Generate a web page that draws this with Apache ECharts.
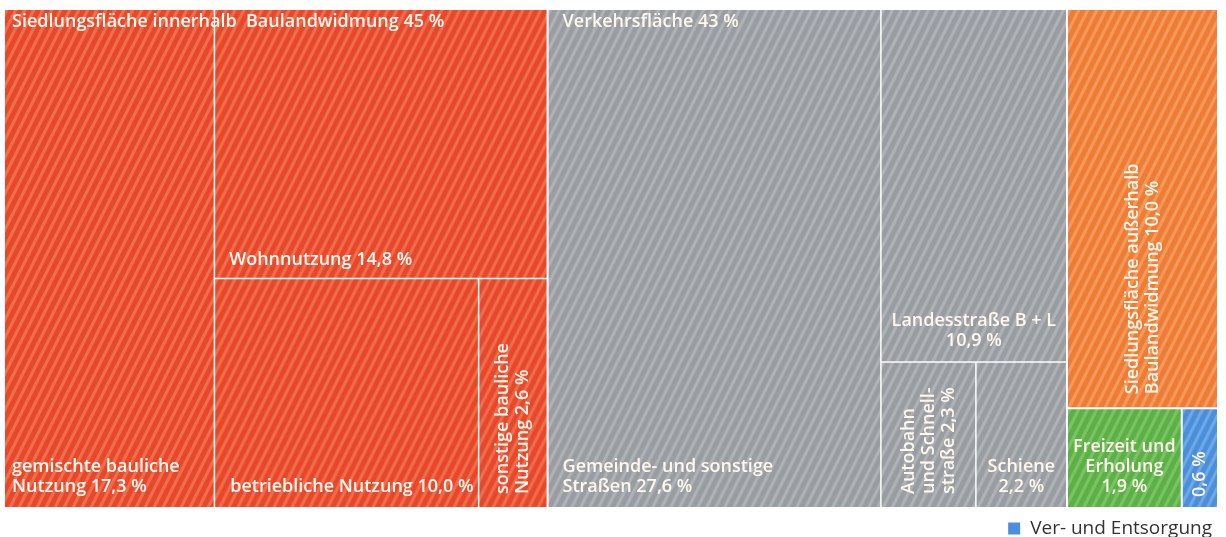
<!DOCTYPE html>
<html><head><meta charset="utf-8">
<script src="https://cdn.jsdelivr.net/npm/echarts@6/dist/echarts.min.js"></script>
<style>html,body{margin:0;padding:0;background:#fff}#c{width:1226px;height:537px}</style>
</head><body><div id="c"></div>
<script>
// ---- data ----
const groupNames = ['Siedlungsfläche innerhalb  Baulandwidmung', 'Verkehrsfläche', 'Siedlungsfläche außerhalb\nBaulandwidmung', 'Freizeit und\nErholung\n', 'Ver- und Entsorgung'];
const groupValues = [45, 43, 10.0, 1.9, 0.6];
const groupDecimals = [0, 0, 1, 1, 1];
const innerNames = ['gemischte bauliche\nNutzung', 'Wohnnutzung', 'betriebliche Nutzung', 'sonstige bauliche\nNutzung'];
const innerValues = [17.3, 14.8, 10.0, 2.6];
const trafficNames = ['Gemeinde- und sonstige\nStraßen', 'Landesstraße B + L\n', 'Autobahn\nund Schnell-\nstraße', 'Schiene\n'];
const trafficValues = [27.6, 10.9, 2.3, 2.2];
const legendNames = ['Ver- und Entsorgung'];

// ---- styles ----
function stripes(base, light) {
  const c = document.createElement('canvas');
  c.width = 9; c.height = 18;
  const g = c.getContext('2d');
  g.fillStyle = base; g.fillRect(0, 0, 9, 18);
  g.fillStyle = light;
  for (let k = -1; k <= 2; k++) {
    const x0 = k * 9;
    g.beginPath();
    g.moveTo(x0, 0); g.lineTo(x0 + 3.5, 0); g.lineTo(x0 + 3.5 - 9, 18); g.lineTo(x0 - 9, 18);
    g.closePath(); g.fill();
  }
  return { image: c, repeat: 'repeat' };
}
const RED = stripes('#e8472b', '#ef6f4d');
const GREY = stripes('#999ca0', '#b0b3b6');
const ORANGE = stripes('#ef7c35', '#f59a5c');
const GREEN = stripes('#5cb046', '#7bc466');
const BLUE = stripes('#4a8fdb', '#70a9e6');
const TXT = '#fff8ef';
const FONT = { fontFamily: 'Open Sans', fontWeight: 600, fontSize: 18, lineHeight: 20, color: TXT, overflow: 'none', padding: 0 };

function fmt(v, d) { return v.toFixed(d).replace('.', ',') + ' %'; }
function join(name, v, d) { return (name === '' || name.endsWith('\n') ? name : name + ' ') + fmt(v, d); }
function L(extra) { return Object.assign({ show: true }, FONT, extra); }
const bl = (dx, db) => L({ position: 'insideBottomLeft', distance: 0, offset: [dx, -db] });
const bc = (db) => L({ position: 'insideBottom', distance: db, align: 'center' });
const rot = (db) => L({ position: 'insideBottom', distance: db, rotate: 90, align: 'left', verticalAlign: 'middle' });

function leaf(name, value, dec, color, label) {
  return { name: name, value: value, itemStyle: { color: color }, label: Object.assign(label, { formatter: join(name, value, dec) }) };
}

const innerLabels = [bl(7, 10), bl(14, 8), bl(15, 10), rot(13)];
const trafficLabels = [bl(14, 10), bc(10), rot(13), bc(10)];

const mainData = [
  { name: groupNames[0], value: groupValues[0], itemStyle: { color: RED },
    children: innerNames.map((n, i) => leaf(n, innerValues[i], 1, RED, innerLabels[i])) },
  { name: groupNames[1], value: groupValues[1], itemStyle: { color: GREY },
    children: trafficNames.map((n, i) => leaf(n, trafficValues[i], 1, GREY, trafficLabels[i])) },
  leaf(groupNames[2], groupValues[2], groupDecimals[2], ORANGE, rot(13)),
  leaf(groupNames[3], groupValues[3], groupDecimals[3], GREEN, bc(10)),
  leaf('', groupValues[4], groupDecimals[4], BLUE, rot(10))
];

const headerData = groupValues.map((v, i) => ({
  name: groupNames[i], value: v,
  itemStyle: { color: 'rgba(0,0,0,0)', borderColor: 'rgba(0,0,0,0)' },
  label: i < 2 ? L({ position: 'insideTopLeft', distance: 0, offset: [i === 0 ? 7 : 14, 2], formatter: join(groupNames[i], v, groupDecimals[i]) }) : { show: false }
}));

const box = { left: 5, top: 10, right: 9, bottom: 30 };
const common = Object.assign({
  type: 'treemap', roam: false, nodeClick: false, squareRatio: 0.5,
  breadcrumb: { show: false }, animation: false
}, box);

const chart = echarts.init(document.getElementById('c'), null, { renderer: 'canvas' });
chart.setOption({
  animation: false,
  legend: {
    right: 9, top: 514, itemWidth: 12, itemHeight: 12, icon: 'rect',
    selectedMode: false,
    data: legendNames.map(n => ({ name: n, itemStyle: { color: '#4a8fdb' } })),
    textStyle: { fontFamily: 'Open Sans', fontWeight: 500, fontSize: 19, color: '#333', padding: [0, 0, 0, 5] }
  },
  series: [
    Object.assign({}, common, {
      name: 'Flächen', z: 2,
      data: mainData,
      levels: [
        { itemStyle: { borderWidth: 0, gapWidth: 2, borderColor: '#fff' } },
        { itemStyle: { borderWidth: 0, gapWidth: 1.5, borderColor: '#fff' } },
        { itemStyle: { borderWidth: 0, gapWidth: 0, borderColor: '#fff' } }
      ]
    }),
    Object.assign({}, common, {
      name: 'Kopf', silent: true, z: 6,
      data: headerData,
      levels: [
        { itemStyle: { borderWidth: 0, gapWidth: 2, borderColor: 'rgba(0,0,0,0)' } },
        { itemStyle: { borderWidth: 0, gapWidth: 0, borderColor: 'rgba(0,0,0,0)' } }
      ]
    }),
    { type: 'custom', name: legendNames[0], coordinateSystem: 'none', renderItem: () => null, data: [] }
  ]
});
</script></body></html>
